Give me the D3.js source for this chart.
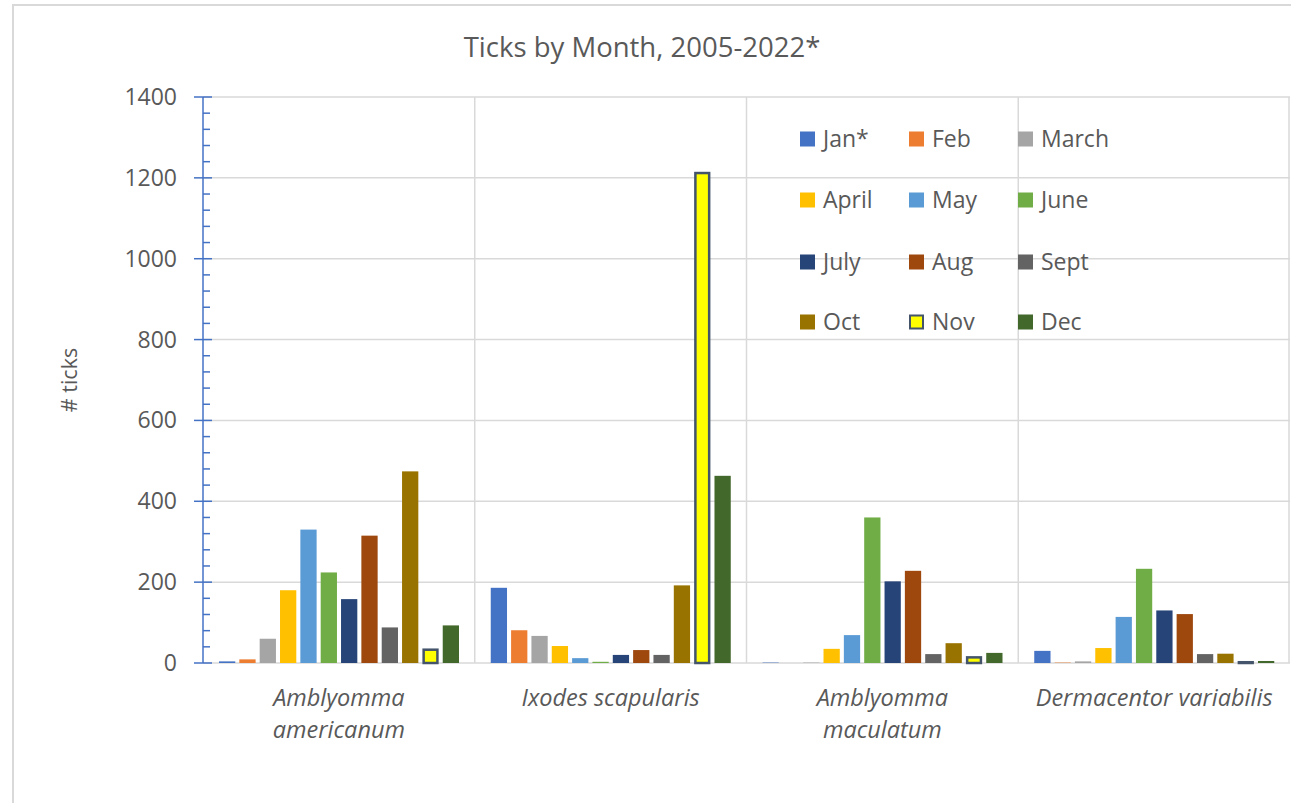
<!DOCTYPE html>
<html>
<head>
<meta charset="utf-8">
<script src="https://cdn.jsdelivr.net/npm/d3@7"></script>
<style>
  html, body { margin: 0; padding: 0; background: #fff; }
  svg { display: block; font-family: "Open Sans", "Noto Sans", sans-serif; }
</style>
</head>
<body>
<svg id="chart" width="1291" height="803"></svg>
<script>
// ---- Data ----
const categories = [
  ["Amblyomma", "americanum"],
  ["Ixodes scapularis"],
  ["Amblyomma", "maculatum"],
  ["Dermacentor variabilis"]
];
const months = ["Jan*", "Feb", "March", "April", "May", "June", "July", "Aug", "Sept", "Oct", "Nov", "Dec"];
const monthColors = ["#4472C4", "#ED7D31", "#A5A5A5", "#FFC000", "#5B9BD5", "#70AD47",
                     "#264478", "#9E480E", "#636363", "#997300", "#FFFF00", "#43682B"];
// values per category, in month order
const amblyommaAmericanum   = [4, 9, 60, 180, 330, 224, 158, 315, 88, 474, 36, 93];
const ixodesScapularis      = [186, 81, 67, 42, 12, 3, 20, 32, 20, 192, 1215, 463];
const amblyommaMaculatum    = [1, 0, 1, 35, 69, 360, 202, 228, 22, 49, 17, 25];
const dermacentorVariabilis = [30, 1, 4, 37, 114, 233, 130, 121, 22, 23, 5, 5];
const seriesByCategory = [amblyommaAmericanum, ixodesScapularis, amblyommaMaculatum, dermacentorVariabilis];
const yTicks = [0, 200, 400, 600, 800, 1000, 1200, 1400];
const title = "Ticks by Month, 2005-2022*";
const yTitle = "# ticks";

// ---- Layout ----
const svg = d3.select("#chart");
const plot = { left: 203, right: 1290, top: 97, bottom: 663 };
const textColor = "#595959";
const gridColor = "#D9D9D9";
const axisBlue = "#4472C4";

// chart border
svg.append("path")
  .attr("d", `M13,803 L13,5 L1291,5`)
  .attr("fill", "none").attr("stroke", gridColor).attr("stroke-width", 2);

const y = d3.scaleLinear().domain([0, 1400]).range([plot.bottom, plot.top]);
const x0 = d3.scaleBand().domain(d3.range(categories.length)).range([plot.left, plot.right]).padding(0);
const x1 = d3.scaleBand().domain(d3.range(months.length)).range([16, 256]).paddingInner(0.2).paddingOuter(0);

// horizontal gridlines
svg.append("g").selectAll("line").data(yTicks.slice(1)).join("line")
  .attr("x1", plot.left).attr("x2", plot.right)
  .attr("y1", d => y(d)).attr("y2", d => y(d))
  .attr("stroke", gridColor).attr("stroke-width", 1.5);

// vertical category gridlines
svg.append("g").selectAll("line").data(d3.range(1, categories.length + 1)).join("line")
  .attr("x1", d => d === categories.length ? plot.right - 1 : x0(d))
  .attr("x2", d => d === categories.length ? plot.right - 1 : x0(d))
  .attr("y1", plot.top).attr("y2", plot.bottom)
  .attr("stroke", gridColor).attr("stroke-width", 1.5);

// x axis baseline
svg.append("line")
  .attr("x1", plot.left).attr("x2", plot.right)
  .attr("y1", plot.bottom).attr("y2", plot.bottom)
  .attr("stroke", gridColor).attr("stroke-width", 1.5);

// bars
const groups = svg.append("g").selectAll("g").data(seriesByCategory).join("g")
  .attr("transform", (d, i) => `translate(${x0(i)},0)`);
groups.selectAll("rect").data(d => d.map((v, m) => ({ v, m }))).join("rect")
  .attr("x", d => x1(d.m) + (d.m === 10 ? 1.25 : 0))
  .attr("width", d => x1.bandwidth() - (d.m === 10 ? 2.5 : 0))
  .attr("y", d => y(d.v) + (d.m === 10 && d.v > 0 ? 1.25 : 0))
  .attr("height", d => Math.max(0, y(0) - y(d.v) - (d.m === 10 && d.v > 0 ? 1.25 : 0)))
  .attr("fill", d => monthColors[d.m])
  .attr("stroke", d => d.m === 10 ? "#44546A" : "none")
  .attr("stroke-width", 2.5);

// y axis (blue with major + minor ticks)
const yAxisG = svg.append("g");
const minorTicks = d3.range(0, 1401, 40).filter(v => v % 200 !== 0);
yAxisG.selectAll("line.minor").data(minorTicks).join("line")
  .attr("class", "minor")
  .attr("x1", plot.left).attr("x2", plot.left + 7)
  .attr("y1", d => y(d)).attr("y2", d => y(d))
  .attr("stroke", axisBlue).attr("stroke-width", 1.5);
yAxisG.selectAll("line.major").data(yTicks).join("line")
  .attr("class", "major")
  .attr("x1", plot.left - 9).attr("x2", plot.left + 9)
  .attr("y1", d => y(d)).attr("y2", d => y(d))
  .attr("stroke", axisBlue).attr("stroke-width", 1.5);
yAxisG.append("line")
  .attr("x1", plot.left).attr("x2", plot.left)
  .attr("y1", plot.top).attr("y2", plot.bottom)
  .attr("stroke", axisBlue).attr("stroke-width", 1.5);
yAxisG.selectAll("text").data(yTicks).join("text")
  .attr("x", 177).attr("y", d => y(d))
  .attr("dy", "0.35em")
  .attr("text-anchor", "end")
  .attr("font-size", 23).attr("fill", textColor)
  .text(d => d);

// x category labels
const xl = svg.append("g").selectAll("text").data(categories).join("text")
  .attr("text-anchor", "middle")
  .attr("font-size", 23.5).attr("font-style", "italic").attr("fill", textColor)
  .attr("transform", (d, i) => `translate(${x0(i) + x0.bandwidth() / 2},706)`);
xl.selectAll("tspan").data(d => d).join("tspan")
  .attr("x", 0).attr("y", (d, j) => j * 32)
  .text(d => d);

// title
svg.append("text")
  .attr("x", 642).attr("y", 57)
  .attr("text-anchor", "middle")
  .attr("font-size", 27.5).attr("fill", textColor)
  .text(title);

// y title
svg.append("text")
  .attr("transform", "translate(77,380) rotate(-90)")
  .attr("text-anchor", "middle")
  .attr("font-size", 21.5).attr("fill", textColor)
  .text(yTitle);

// legend
const legColX = [800, 909, 1018];
const legRowY = [139, 200, 262, 322];
const leg = svg.append("g").selectAll("g").data(months).join("g")
  .attr("transform", (d, i) => `translate(${legColX[i % 3]},${legRowY[Math.floor(i / 3)]})`);
leg.append("rect")
  .attr("x", (d, i) => i === 10 ? 1 : 0)
  .attr("y", (d, i) => i === 10 ? -6.5 : -7.5)
  .attr("width", (d, i) => i === 10 ? 13 : 15)
  .attr("height", (d, i) => i === 10 ? 13 : 15)
  .attr("fill", (d, i) => monthColors[i])
  .attr("stroke", (d, i) => i === 10 ? "#44546A" : "none")
  .attr("stroke-width", 2);
leg.append("text")
  .attr("x", 23).attr("y", 0).attr("dy", "0.35em")
  .attr("font-size", 23).attr("fill", textColor)
  .text(d => d);
</script>
</body>
</html>
